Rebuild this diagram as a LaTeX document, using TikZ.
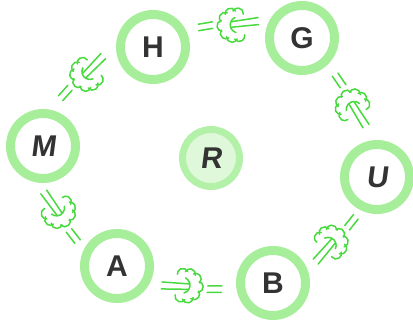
\documentclass[tikz,border=0pt]{standalone}
\usepackage{fontspec}
\setmainfont{Liberation Sans}
\newfontface\slantbold{Liberation Sans Bold}[FakeSlant=0.13]
\definecolor{ringgreen}{HTML}{A6EE9A}
\definecolor{fillgreen}{HTML}{DFF8DA}
\definecolor{puffgreen}{HTML}{48D93E}
\definecolor{lettergray}{HTML}{333333}
\tikzset{
  ringnode/.style={circle, draw=ringgreen, line width=9pt, fill=white,
    minimum size=65pt, inner sep=0pt, text=lettergray,
    font=\fontsize{30}{30}\selectfont\bfseries},
  slant/.style={font=\fontsize{30}{30}\selectfont\slantbold},
  puffline/.style={draw=puffgreen, line width=1.5pt, line cap=round},
  % a little gas puff travelling along +x, shifted #1 along and #2 outward
  pics/puff/.style args={#1/#2}{code={
    \begin{scope}[shift={(#1,#2)}]
      % scalloped cloud, open towards the direction of travel
      \foreach \a in {70,105,140,180,220,255,290}
        \draw[puffline] ({12*cos(\a)+5.5*cos(\a-80)},{12*sin(\a)+5.5*sin(\a-80)})
          arc[start angle=\a-80, end angle=\a+80, radius=5.5];
      % inner curl
      \draw[puffline] (1,7.5) arc[start angle=110, end angle=250, radius=8];
      % trailing streaks
      \draw[puffline] (-3,3.5) -- (24,6);
      \draw[puffline] (-3,-2) -- (24,-1);
      % speed lines behind
      \draw[puffline] (-36,3) -- (-22,4.5);
      \draw[puffline] (-36,-3.5) -- (-22,-2);
    \end{scope}
  }},
}
\begin{document}
\begin{tikzpicture}[x=1pt, y=1pt, allow upside down]
\useasboundingbox (0,0) rectangle (413,322);

\node[ringnode] (H) at (153,275) {H};
\node[ringnode] (G) at (302,284) {G};
\node[ringnode, slant] (U) at (377,145) {U};
\node[ringnode] (B) at (273,39) {B};
\node[ringnode] (A) at (117,56) {A};
\node[ringnode, slant] (M) at (43,176) {M};
\node[ringnode, slant, draw=ringgreen!85, fill=fillgreen, line width=7pt,
      minimum size=57pt] (R) at (211,164) {R};

% puffs travelling clockwise round the ring
\path (H) -- (G) pic[pos=0.5, sloped]{puff=8/17};
\path (G) -- (U) pic[pos=0.5, sloped]{puff=5/12};
\path (U) -- (B) pic[pos=0.5, sloped]{puff=5/13};
\path (B) -- (A) pic[pos=0.5, sloped]{puff=8/12};
\path (A) -- (M) pic[pos=0.5, sloped]{puff=7/21};
\path (M) -- (H) pic[pos=0.5, sloped]{puff=7/24};
\end{tikzpicture}
\end{document}
